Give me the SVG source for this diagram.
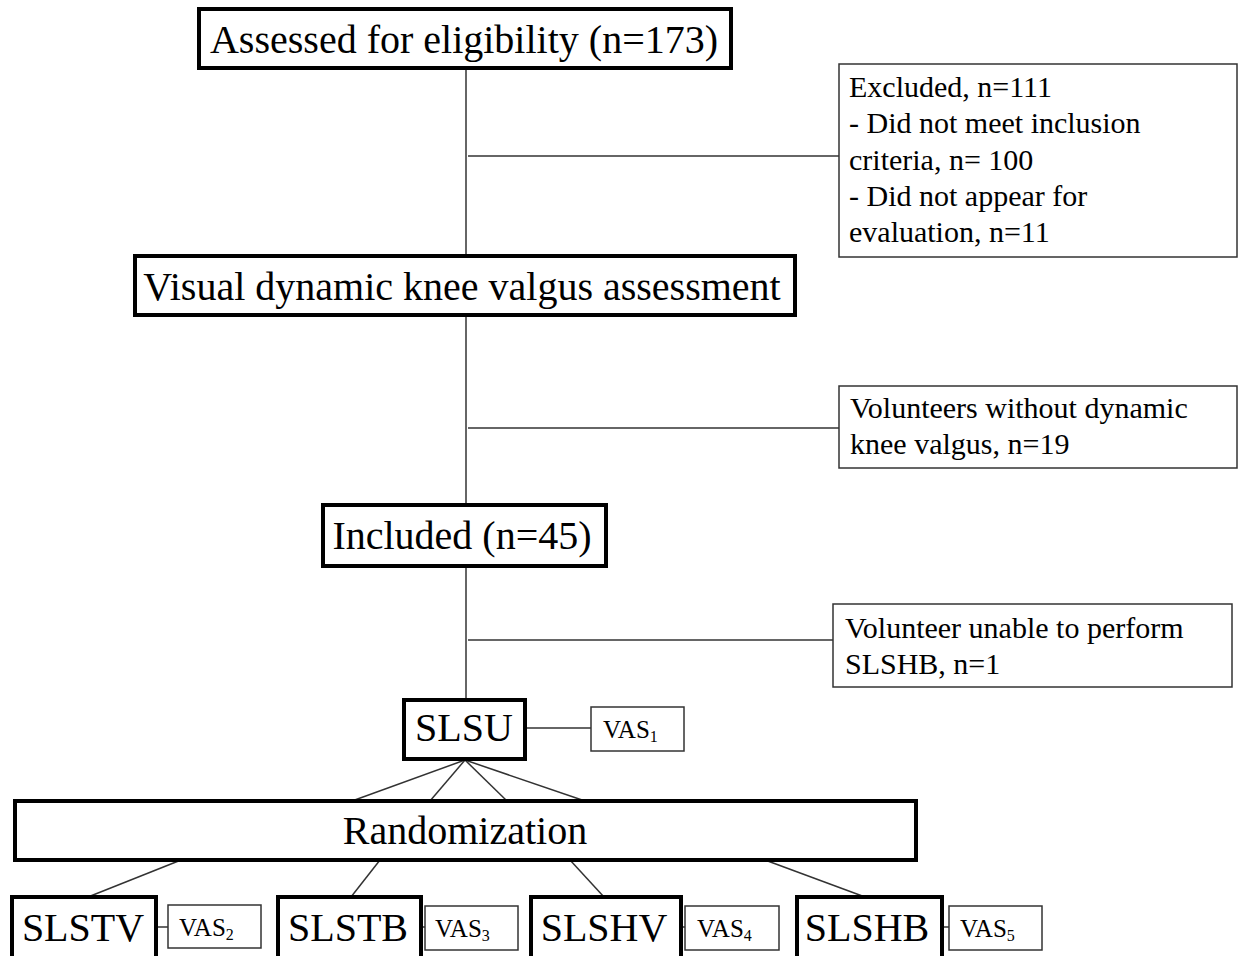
<svg xmlns="http://www.w3.org/2000/svg" width="1240" height="956" viewBox="0 0 1240 956">
<style>
.thick{fill:#fff;stroke:#000;stroke-width:4}
.thin{fill:#fff;stroke:#333;stroke-width:1.5}
.big{font-family:"Liberation Serif","Times New Roman",serif;font-size:40px;fill:#000}
.mid{font-family:"Liberation Serif","Times New Roman",serif;font-size:30px;fill:#000}
.vas{font-family:"Liberation Serif","Times New Roman",serif;font-size:25px;fill:#000}
.sub{font-size:16px}
.conn line{stroke:#333;stroke-width:1.5}
</style>
<rect width="1240" height="956" fill="#fff"/>
<g id="connectors" class="conn">
<line x1="466" y1="68" x2="466" y2="256"/>
<line x1="468" y1="156" x2="839" y2="156"/>
<line x1="466" y1="315" x2="466" y2="505"/>
<line x1="468" y1="428" x2="839" y2="428"/>
<line x1="466" y1="566" x2="466" y2="700"/>
<line x1="468" y1="640" x2="833" y2="640"/>
<line x1="525" y1="728" x2="591" y2="728"/>
<line x1="465" y1="760" x2="352" y2="801"/>
<line x1="465" y1="760" x2="430" y2="801"/>
<line x1="465" y1="760" x2="507" y2="801"/>
<line x1="465" y1="760" x2="585" y2="801"/>
<line x1="181" y1="860" x2="88" y2="897"/>
<line x1="380" y1="860" x2="351" y2="897"/>
<line x1="570" y1="860" x2="604" y2="897"/>
<line x1="765" y1="860" x2="865" y2="897"/>
<line x1="156" y1="927" x2="168" y2="927"/>
<line x1="421" y1="927" x2="425" y2="927"/>
<line x1="681" y1="927" x2="685" y2="927"/>
<line x1="942" y1="927" x2="949" y2="927"/>
</g>
<g id="assessed">
<rect class="thick" x="199" y="9" width="532" height="59"/>
<text class="big" x="464" y="53" text-anchor="middle">Assessed for eligibility (n=173)</text>
</g>
<g id="excluded">
<rect class="thin" x="839" y="64" width="398" height="193"/>
<text class="mid" x="849" y="97">Excluded, n=111</text>
<text class="mid" x="849" y="133">- Did not meet inclusion</text>
<text class="mid" x="849" y="170">criteria, n= 100</text>
<text class="mid" x="849" y="206">- Did not appear for</text>
<text class="mid" x="849" y="242">evaluation, n=11</text>
</g>
<g id="visual">
<rect class="thick" x="135" y="256" width="660" height="59"/>
<text class="big" x="462" y="300" text-anchor="middle">Visual dynamic knee valgus assessment</text>
</g>
<g id="without">
<rect class="thin" x="839" y="386" width="398" height="82"/>
<text class="mid" x="850" y="418">Volunteers without dynamic</text>
<text class="mid" x="850" y="454">knee valgus, n=19</text>
</g>
<g id="included">
<rect class="thick" x="323" y="505" width="283" height="61"/>
<text class="big" x="462" y="549" text-anchor="middle">Included (n=45)</text>
</g>
<g id="unable">
<rect class="thin" x="833" y="604" width="399" height="83"/>
<text class="mid" x="845" y="638">Volunteer unable to perform</text>
<text class="mid" x="845" y="674">SLSHB, n=1</text>
</g>
<g id="slsu">
<rect class="thick" x="404" y="700" width="121" height="59"/>
<text class="big" x="464" y="741" text-anchor="middle">SLSU</text>
</g>
<g id="vas1">
<rect class="thin" x="591" y="707" width="93" height="44"/>
<text class="vas" x="603" y="738">VAS<tspan class="sub" dy="4">1</tspan></text>
</g>
<g id="randomization">
<rect class="thick" x="15" y="801" width="901" height="59"/>
<text class="big" x="465" y="844" text-anchor="middle">Randomization</text>
</g>
<g id="slstv">
<rect class="thick" x="12" y="897" width="144" height="65"/>
<text class="big" x="83" y="941" text-anchor="middle">SLSTV</text>
</g>
<g id="vas2">
<rect class="thin" x="168" y="905" width="93" height="43"/>
<text class="vas" x="179" y="936">VAS<tspan class="sub" dy="4">2</tspan></text>
</g>
<g id="slstb">
<rect class="thick" x="278" y="897" width="143" height="65"/>
<text class="big" x="348" y="941" text-anchor="middle">SLSTB</text>
</g>
<g id="vas3">
<rect class="thin" x="425" y="906" width="93" height="44"/>
<text class="vas" x="435" y="937">VAS<tspan class="sub" dy="4">3</tspan></text>
</g>
<g id="slshv">
<rect class="thick" x="531" y="897" width="150" height="65"/>
<text class="big" x="604" y="941" text-anchor="middle">SLSHV</text>
</g>
<g id="vas4">
<rect class="thin" x="685" y="906" width="94" height="44"/>
<text class="vas" x="697" y="937">VAS<tspan class="sub" dy="4">4</tspan></text>
</g>
<g id="slshb">
<rect class="thick" x="797" y="897" width="145" height="65"/>
<text class="big" x="867" y="941" text-anchor="middle">SLSHB</text>
</g>
<g id="vas5">
<rect class="thin" x="949" y="906" width="93" height="44"/>
<text class="vas" x="960" y="937">VAS<tspan class="sub" dy="4">5</tspan></text>
</g>
</svg>
